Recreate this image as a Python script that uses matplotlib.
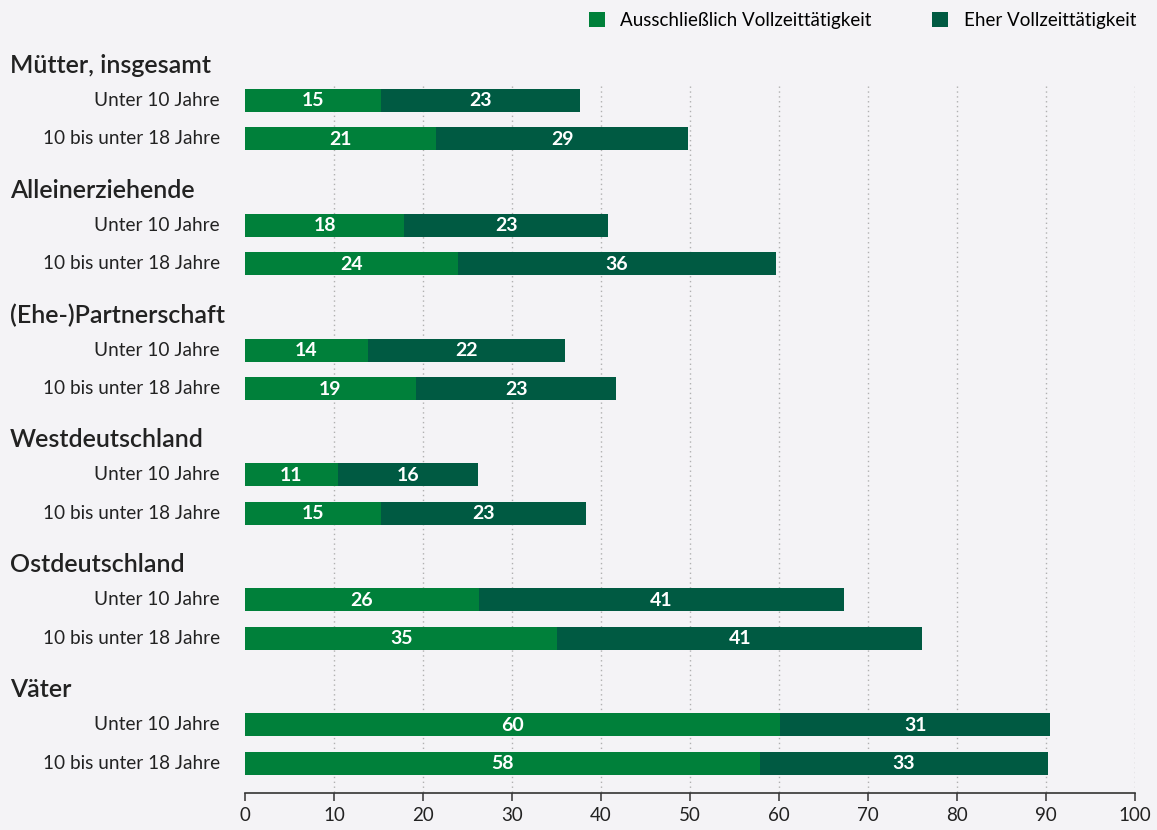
import matplotlib
matplotlib.use("Agg")
import matplotlib.pyplot as plt
from matplotlib.patches import Patch

plt.rcParams['font.family'] = ['Lato', 'DejaVu Sans']

groups = ["Mütter, insgesamt", "Alleinerziehende", "(Ehe-)Partnerschaft",
          "Westdeutschland", "Ostdeutschland", "Väter"]
rows = ["Unter 10 Jahre", "10 bis unter 18 Jahre"]

# bar lengths (percent)
excl_vals = [15.3, 21.5, 17.9, 23.9, 13.8, 19.2, 10.4, 15.3, 26.3, 35.1, 60.1, 57.9]
eher_vals = [22.3, 28.3, 22.9, 35.8, 22.2, 22.5, 15.8, 23.0, 41.0, 41.0, 30.4, 32.3]
# printed labels
excl_labels = [15, 21, 18, 24, 14, 19, 11, 15, 26, 35, 60, 58]
eher_labels = [23, 29, 23, 36, 22, 23, 16, 23, 41, 41, 31, 33]

series_names = ["Ausschließlich Vollzeittätigkeit", "Eher Vollzeittätigkeit"]
c_excl = "#00803a"
c_eher = "#005a42"
bg = "#f4f3f6"
txt = "#222222"

W, H = 1157, 830
fig = plt.figure(figsize=(W / 100, H / 100), dpi=100, facecolor=bg)
axis_y = 793
ax = fig.add_axes([245 / W, (H - axis_y) / H, (1135 - 245) / W, axis_y / H])
ax.set_facecolor(bg)
ax.set_xlim(0, 100)
ax.set_ylim(axis_y, 0)

gstep = 124.8
bar_h = 23
ypos = []
for g in range(len(groups)):
    ypos += [100.5 + gstep * g, 139 + gstep * g]

# gridlines
for xv in range(10, 101, 10):
    ax.plot([xv, xv], [86, axis_y], color="#b0b0b0", lw=1.0, ls=(0, (1, 2.5)), zorder=0)

ax.barh(ypos, excl_vals, height=bar_h, color=c_excl, zorder=2)
ax.barh(ypos, eher_vals, left=excl_vals, height=bar_h, color=c_eher, zorder=2)

for y, a, b, la, lb in zip(ypos, excl_vals, eher_vals, excl_labels, eher_labels):
    ax.text(a / 2, y + 0.5, str(la), ha="center", va="center", color="white",
            fontsize=14, fontweight="bold", zorder=3)
    ax.text(a + b / 2, y + 0.5, str(lb), ha="center", va="center", color="white",
            fontsize=14, fontweight="bold", zorder=3)

# row labels
for i, y in enumerate(ypos):
    ax.text(-2.8, y, rows[i % 2], ha="right", va="center", color=txt, fontsize=13.7)

# group headers
for g, name in enumerate(groups):
    ax.text(-26.4, 65.5 + gstep * g, name, ha="left", va="center", color=txt,
            fontsize=18, fontweight="semibold", clip_on=False)

for s in ["top", "right", "left"]:
    ax.spines[s].set_visible(False)
ax.spines["bottom"].set_color("#333333")
ax.spines["bottom"].set_linewidth(1.2)
ax.set_yticks([])
ax.set_xticks(range(0, 101, 10))
ax.tick_params(axis="x", length=6, width=1.1, color="#333333", labelsize=13.5,
               labelcolor=txt, pad=4)

handles = [Patch(facecolor=c_excl), Patch(facecolor=c_eher)]
fig.legend(handles, series_names, loc="upper right", bbox_to_anchor=(1153 / W, 1.006),
           ncol=2, frameon=False, fontsize=13.5, handlelength=0.85, handleheight=0.85,
           handletextpad=0.85, columnspacing=3.2)

fig.savefig("out.png", dpi=100, facecolor=bg)
